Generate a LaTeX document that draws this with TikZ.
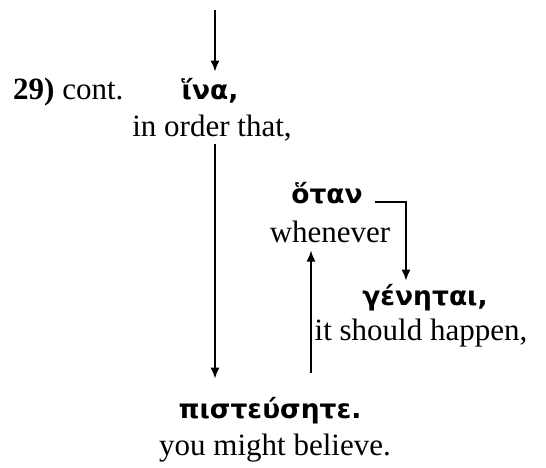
\documentclass[tikz,border=0pt]{standalone}
\usepackage{fontspec}
\setmainfont{Liberation Serif}
\newfontfamily\greekfont{DejaVu Sans}
\usetikzlibrary{positioning}
\usetikzlibrary{arrows.meta}
\tikzset{
    gloss/.style = {anchor=base, inner sep=2pt, font=\fontsize{31}{36}\selectfont},
    greek/.style = {anchor=base, inner sep=2pt, font=\greekfont\bfseries\fontsize{26.5}{30}\selectfont},
    edgen/.style = {-{Latex[length=11pt,width=9pt]}, line width=1.6pt}
}
\begin{document}
\begin{tikzpicture}[x=1pt,y=-1pt]
  \useasboundingbox (0,0) rectangle (546,468);

  \node[gloss,anchor=base west] (cont) at (11,100) {\textbf{29)} cont.};
  \node[greek] (ina) at (210,100) {ἵνα,};
  \node[gloss] (order) at (212,137) {in order that,};

  \node[greek] (hotan) at (327,203) {ὅταν};
  \node[gloss] (whenever) at (330,242) {whenever};

  \node[greek] (genetai) at (425,305) {γένηται,};
  \node[gloss] (happen) at (421,340) {it should happen,};

  \node[greek] (pisteu) at (270,418) {πιστεύσητε.};
  \node[gloss] (believe) at (275,455) {you might believe.};

  \coordinate (top) at (215,10);
  \coordinate (upfoot) at (311,373);

  \draw[edgen] (top) -- ([yshift=5pt]top |- ina.north);
  \draw[edgen] (order.south -| top) -- ([yshift=16pt]pisteu.north -| top);
  \draw[edgen] (upfoot) -- ([yshift=-6pt]upfoot |- whenever.south);
  \draw[edgen] ([xshift=10pt,yshift=1pt]hotan.base east) -| ([xshift=-19pt,yshift=1pt]genetai.north);
\end{tikzpicture}
\end{document}
